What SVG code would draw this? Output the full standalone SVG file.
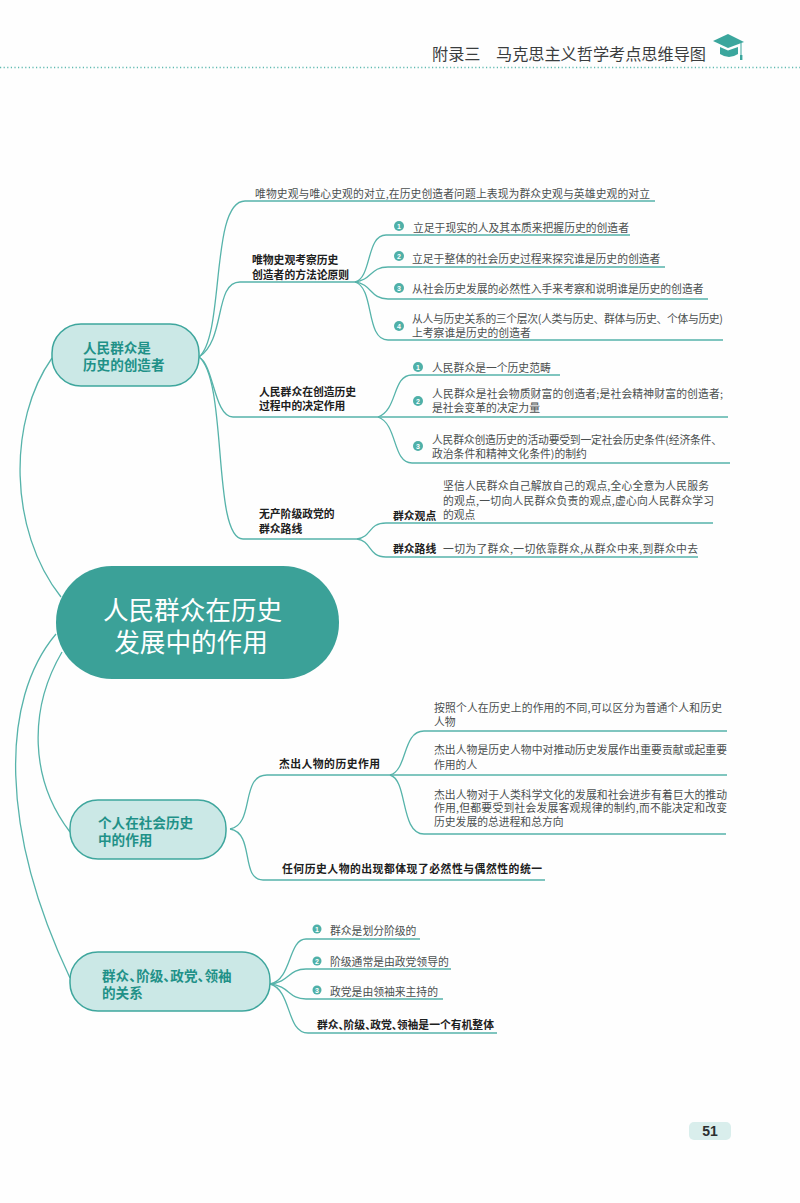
<svg xmlns="http://www.w3.org/2000/svg" width="800" height="1203" viewBox="0 0 800 1203">
<style>
text{font-family:"Noto Sans CJK SC","Liberation Sans",sans-serif;dominant-baseline:central}
.t{font-size:10.8px;fill:#4a4f4f}
.b{font-size:10.8px;font-weight:700;fill:#1c2020}
.n{font-size:13.6px;font-weight:700;fill:#1f9188}
.c{fill:none;stroke:#56b3aa;stroke-width:1.3}
.pill{fill:#cbe8e6;stroke:#3ea69d;stroke-width:1.5}
.dot{fill:#4fb0a8}
.d{font-size:7px;fill:#fff;text-anchor:middle;font-family:"Liberation Sans",sans-serif;font-weight:700}
.r{font-size:25.6px;fill:#fff;text-anchor:middle}
.h{font-size:16.2px;fill:#3a3d3e}
</style>
<rect width="800" height="1203" fill="#fefefe"/>
<g id="header">
<text class="h" x="432" y="53">附录三</text>
<text class="h" x="496" y="53" textLength="210">马克思主义哲学考点思维导图</text>
<line x1="0" y1="67.5" x2="800" y2="67.5" stroke="#5fbab1" stroke-width="1.5" stroke-dasharray="1.2 2.4"/>
<path d="M713 41 L728 34 L744 42 L728 48 Z" fill="#3ba69d"/>
<path d="M720 47 L728 50.5 L738 47 L738 54 Q729 60 720 54 Z" fill="#3ba69d"/>
<path d="M741 43 V55" stroke="#3ba69d" stroke-width="1" fill="none"/>
<rect x="740" y="55" width="2.4" height="5" fill="#3ba69d"/>
</g>
<g id="connectors">
<path class="c" d="M61 597 C8 530 8 420 52 358"/>
<path class="c" d="M56 634 C0 700 0 830 70 978"/>
<path class="c" d="M62 652 C28 710 30 780 70 832"/>
<path class="c" d="M199 357 C225 335 210 201 245 201 H655"/>
<path class="c" d="M199 357 C226 340 214 282 240 282 H355"/>
<path class="c" d="M199 357 C214 365 214 417 233 417 H378"/>
<path class="c" d="M199 357 C228 380 212 539 243 539 H357"/>
<path class="c" d="M355 282 C372 278 366 235 386 235 H630"/>
<path class="c" d="M355 282 C372 280 370 267 388 267 H665"/>
<path class="c" d="M355 282 C372 284 370 299 388 299 H708"/>
<path class="c" d="M355 282 C375 288 365 340 388 340 H723"/>
<path class="c" d="M378 417 C398 410 392 375 412 375 H560"/>
<path class="c" d="M378 417 H728"/>
<path class="c" d="M378 417 C398 424 392 463 412 463 H730"/>
<path class="c" d="M357 539 C372 537 368 523 386 523 H713"/>
<path class="c" d="M357 539 C372 541 368 557 386 557 H698"/>
<path class="c" d="M230 829 C255 825 240 775 267 775 H390"/>
<path class="c" d="M230 829 C255 833 240 880 263 880 H545"/>
<path class="c" d="M390 775 C408 770 402 731 424 731 H727"/>
<path class="c" d="M390 775 H727"/>
<path class="c" d="M390 775 C408 780 400 834 424 834 H726"/>
<path class="c" d="M270 984 C292 980 288 939 306 939 H420"/>
<path class="c" d="M270 984 C290 982 288 969 306 969 H451"/>
<path class="c" d="M270 984 C290 986 288 999 306 999 H443"/>
<path class="c" d="M270 984 C292 990 286 1033 308 1033 H497"/>
</g>
<g id="root">
<rect x="56" y="566" width="283" height="113" rx="56" fill="#3ba198"/>
<text class="r" x="192.500" y="608">人民群众在历史</text>
<text class="r" x="191" y="640">发展中的作用</text>
</g>
<g id="node-1">
<rect class="pill" x="52" y="324" width="147" height="62" rx="29"/>
<text class="n" x="83" y="347">人民群众是</text>
<text class="n" x="83" y="364">历史的创造者</text>
</g>
<g id="node-2">
<rect class="pill" x="70" y="800" width="156" height="59" rx="28"/>
<text class="n" x="98" y="822">个人在社会历史</text>
<text class="n" x="98" y="839">中的作用</text>
</g>
<g id="node-3">
<rect class="pill" x="70" y="952" width="200" height="59" rx="28"/>
<text class="n" x="102" y="975">群众、<tspan dx="-6.600">阶级、</tspan><tspan dx="-6.600">政党、</tspan><tspan dx="-6.600">领袖</tspan></text>
<text class="n" x="102" y="992">的关系</text>
</g>
<g id="n1-intro"><text class="t" x="255" y="193" textLength="395">唯物史观与唯心史观的对立,在历史创造者问题上表现为群众史观与英雄史观的对立</text></g>
<g id="n1-a">
<text class="b" x="252" y="259">唯物史观考察历史</text>
<text class="b" x="252" y="274">创造者的方法论原则</text>
</g>
<g id="n1-a1"><circle class="dot" cx="399" cy="226" r="5"/><text class="d" x="399" y="226">1</text><text class="t" x="413" y="227">立足于现实的人及其本质来把握历史的创造者</text></g>
<g id="n1-a2"><circle class="dot" cx="399" cy="256" r="5"/><text class="d" x="399" y="256">2</text><text class="t" x="412" y="258">立足于整体的社会历史过程来探究谁是历史的创造者</text></g>
<g id="n1-a3"><circle class="dot" cx="399" cy="288" r="5"/><text class="d" x="399" y="288">3</text><text class="t" x="412" y="288">从社会历史发展的必然性入手来考察和说明谁是历史的创造者</text></g>
<g id="n1-a4"><circle class="dot" cx="399" cy="326" r="5"/><text class="d" x="399" y="326">4</text><text class="t" x="412" y="318" textLength="311">从人与历史关系的三个层次(人类与历史、群体与历史、个体与历史)</text><text class="t" x="412" y="332">上考察谁是历史的创造者</text></g>
<g id="n1-b">
<text class="b" x="259" y="391">人民群众在创造历史</text>
<text class="b" x="259" y="405">过程中的决定作用</text>
</g>
<g id="n1-b1"><circle class="dot" cx="418" cy="367" r="5"/><text class="d" x="418" y="367">1</text><text class="t" x="432" y="367">人民群众是一个历史范畴</text></g>
<g id="n1-b2"><circle class="dot" cx="418" cy="401" r="5"/><text class="d" x="418" y="401">2</text><text class="t" x="432" y="393" textLength="291">人民群众是社会物质财富的创造者;是社会精神财富的创造者;</text><text class="t" x="432" y="407">是社会变革的决定力量</text></g>
<g id="n1-b3"><circle class="dot" cx="418" cy="446" r="5"/><text class="d" x="418" y="446">3</text><text class="t" x="432" y="439" textLength="290">人民群众创造历史的活动要受到一定社会历史条件(经济条件、</text><text class="t" x="432" y="453">政治条件和精神文化条件)的制约</text></g>
<g id="n1-c">
<text class="b" x="259" y="513">无产阶级政党的</text>
<text class="b" x="259" y="528">群众路线</text>
</g>
<g id="n1-c1">
<text class="b" x="393" y="515">群众观点</text>
<text class="t" x="443" y="485" textLength="266">坚信人民群众自己解放自己的观点,全心全意为人民服务</text>
<text class="t" x="443" y="500" textLength="271">的观点,一切向人民群众负责的观点,虚心向人民群众学习</text>
<text class="t" x="443" y="514">的观点</text>
</g>
<g id="n1-c2">
<text class="b" x="393" y="548">群众路线</text>
<text class="t" x="443" y="548" textLength="255">一切为了群众,一切依靠群众,从群众中来,到群众中去</text>
</g>
<g id="n2-a"><text class="b" x="279" y="763" textLength="101">杰出人物的历史作用</text></g>
<g id="n2-a1"><text class="t" x="434" y="707" textLength="288">按照个人在历史上的作用的不同,可以区分为普通个人和历史</text><text class="t" x="434" y="721">人物</text></g>
<g id="n2-a2"><text class="t" x="434" y="749" textLength="293">杰出人物是历史人物中对推动历史发展作出重要贡献或起重要</text><text class="t" x="434" y="764">作用的人</text></g>
<g id="n2-a3"><text class="t" x="434" y="794" textLength="293">杰出人物对于人类科学文化的发展和社会进步有着巨大的推动</text><text class="t" x="434" y="807" textLength="293">作用,但都要受到社会发展客观规律的制约,而不能决定和改变</text><text class="t" x="434" y="821">历史发展的总进程和总方向</text></g>
<g id="n2-b"><text class="b" x="282" y="868" textLength="260">任何历史人物的出现都体现了必然性与偶然性的统一</text></g>
<g id="n3-a"><circle class="dot" cx="317" cy="929" r="4.500"/><text class="d" x="317" y="929">1</text><text class="t" x="330" y="930">群众是划分阶级的</text></g>
<g id="n3-b"><circle class="dot" cx="317" cy="961" r="4.500"/><text class="d" x="317" y="961">2</text><text class="t" x="330" y="961">阶级通常是由政党领导的</text></g>
<g id="n3-c"><circle class="dot" cx="317" cy="990" r="4.500"/><text class="d" x="317" y="990">3</text><text class="t" x="330" y="991">政党是由领袖来主持的</text></g>
<g id="n3-d"><text class="b" x="317" y="1024">群众、<tspan dx="-5.800">阶级、</tspan><tspan dx="-5.800">政党、</tspan><tspan dx="-5.800">领袖是一个有机整体</tspan></text></g>
<g id="page">
<rect x="689" y="1122" width="42" height="18" rx="5" fill="#d9eeec"/>
<text x="710" y="1131" font-size="14" font-weight="700" fill="#2b3030" text-anchor="middle" style="font-family:'Liberation Sans',sans-serif">51</text>
</g>
</svg>
